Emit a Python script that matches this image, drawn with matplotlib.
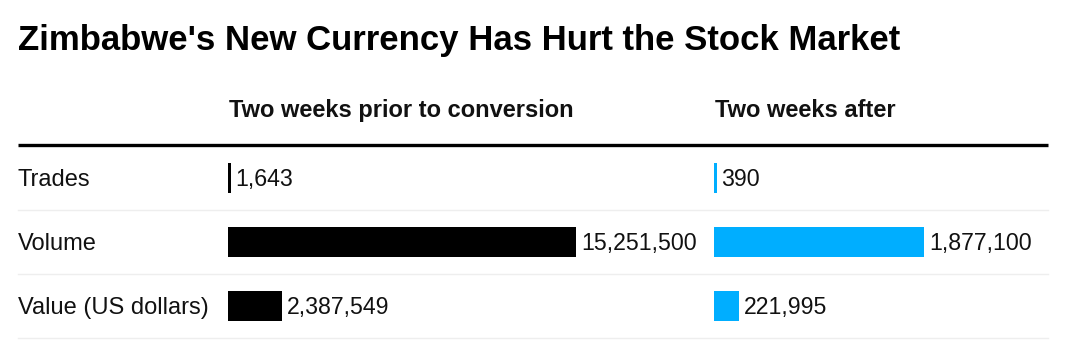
import matplotlib.pyplot as plt
import matplotlib as mpl

mpl.rcParams['font.family'] = ['Liberation Sans', 'DejaVu Sans']

title = "Zimbabwe's New Currency Has Hurt the Stock Market"
rows = ['Trades', 'Volume', 'Value (US dollars)']
columns = ['Two weeks prior to conversion', 'Two weeks after']
before = [1643, 15251500, 2387549]
after = [390, 1877100, 221995]
colors = ['#000000', '#00AEFF']

W, H = 1080, 342
fig = plt.figure(figsize=(W / 100, H / 100), dpi=100)

def box(x0, y0, x1, y1):
    # pixel box (top-left origin) -> figure fraction rect
    return [x0 / W, 1 - y1 / H, (x1 - x0) / W, (y1 - y0) / H]

# background layer: labels and rules in pixel coordinates
bg = fig.add_axes([0, 0, 1, 1])
bg.set_xlim(0, W); bg.set_ylim(H, 0); bg.axis('off')

bg.text(18, 50, title, fontsize=25, fontweight='bold', va='baseline', ha='left')
col_x = [228, 714]
for cx, name in zip(col_x, columns):
    bg.text(cx + 1, 117, name, fontsize=17, fontweight='bold', va='baseline', ha='left', color='#111111')
bg.plot([18, 1048], [145, 145], color='black', lw=2.4, solid_capstyle='butt')

row_h = 64
top = 146
for i, r in enumerate(rows):
    yc = top + row_h * (i + 0.5)
    bg.text(18, yc + 2, r, fontsize=17, va='center', ha='left', color='#111111')
    bg.plot([18, 1048], [top + row_h * (i + 1)] * 2, color='#eeeeee', lw=1)

# one bar axis per column, each scaled to its own maximum
col_span = [(228, 714, 348), (714, 1048, 210)]
for (x0, x1, max_px), vals, c in zip(col_span, [before, after], colors):
    ax = fig.add_axes(box(x0, top, x1, top + row_h * len(rows)))
    ax.axis('off')
    xmax = max(vals) * (x1 - x0) / max_px
    ax.set_xlim(0, xmax)
    ax.set_ylim(len(rows) - 0.5, -0.5)
    min_w = xmax * 2.5 / (x1 - x0)
    for i, v in enumerate(vals):
        w = max(v, min_w)
        ax.barh(i, w, height=0.46, color=c, left=0)
        ax.annotate(f'{v:,}', xy=(w, i), xytext=(3.5, -1), textcoords='offset points',
                    fontsize=16.7, va='center', ha='left', color='#111111')

fig.savefig('out.png', dpi=100)
